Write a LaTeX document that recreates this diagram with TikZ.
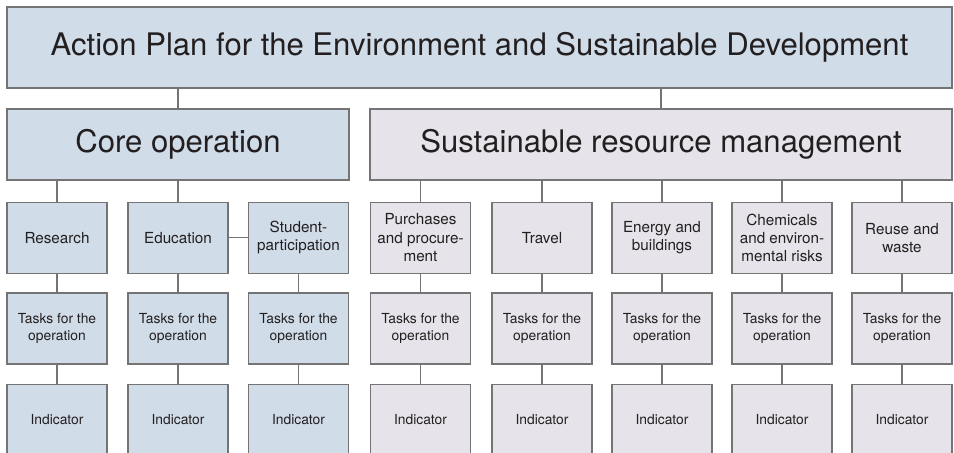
\documentclass[tikz,border=0pt]{standalone}
\usepackage{fontspec}
\setmainfont{TeX Gyre Heros}
\definecolor{blueF}{HTML}{D0DCE8}
\definecolor{greyF}{HTML}{E6E4EA}
\definecolor{edge}{HTML}{747474}
\definecolor{ink}{HTML}{231F20}
\begin{document}
\begin{tikzpicture}[x=1bp,y=-1bp,
  box/.style={draw=edge,line width=1.1bp,text=ink,inner sep=0pt,align=center},
  bigbox/.style={box,minimum height=71bp,font=\fontsize{31.2}{36}\selectfont},
  catbox/.style={box,minimum width=100bp,minimum height=71bp,font=\fontsize{15.3}{18.3}\selectfont},
  subbox/.style={box,minimum width=100bp,minimum height=71bp,font=\fontsize{13.9}{17.4}\selectfont},
  conn/.style={draw=edge,line width=1.1bp}]
\useasboundingbox (0,0) rectangle (954,453);
\clip (0,0) rectangle (954,453);
\fill[white] (0,0) rectangle (954,453);
% top
\node[bigbox,fill=blueF,minimum width=945bp,minimum height=81bp] (top) at (479.5,47.5) {Action Plan for the Environment and Sustainable Development};
\node[bigbox,fill=blueF,minimum width=342bp] (core) at (178,144.5) {Core operation};
\node[bigbox,fill=greyF,minimum width=582bp] (sus) at (661,144.5) {Sustainable resource management};
% categories
\node[catbox,fill=blueF] (res) at (57,237.7) {Research};
\node[catbox,fill=blueF] (edu) at (178,237.7) {Education};
\node[catbox,fill=blueF] (stu) at (298.5,237.7) {Student-\\participation};
\node[catbox,fill=greyF] (pur) at (420.5,237.7) {Purchases\\and procure-\\ment};
\node[catbox,fill=greyF] (tra) at (542,237.7) {Travel};
\node[catbox,fill=greyF] (ene) at (662,237.7) {Energy and\\buildings};
\node[catbox,fill=greyF] (che) at (782,237.7) {Chemicals\\and environ-\\mental risks};
\node[catbox,fill=greyF] (reu) at (902,237.7) {Reuse and\\waste};
% tasks and indicators
\foreach \n/\x/\c in {res/57/blueF,edu/178/blueF,stu/298.5/blueF,pur/420.5/greyF,tra/542/greyF,ene/662/greyF,che/782/greyF,reu/902/greyF}{
  \node[subbox,fill=\c] (\n-t) at (\x,328.5) {Tasks for the\\operation};
  \node[subbox,fill=\c] (\n-i) at (\x,420) {Indicator};
  \draw[conn] (\n.south) -- (\n-t.north);
  \draw[conn] (\n-t.south) -- (\n-i.north);
}
% connectors
\draw[conn] (top.south -| core.north) -- (core.north);
\draw[conn] (top.south -| sus.north) -- (sus.north);
\draw[conn] (core.south -| res.north) -- (res.north);
\draw[conn] (core.south -| edu.north) -- (edu.north);
\draw[conn] (edu.east) -- (stu.west);
\foreach \n in {pur,tra,ene,che,reu}{
  \draw[conn] (sus.south -| \n.north) -- (\n.north);
}
\end{tikzpicture}
\end{document}
